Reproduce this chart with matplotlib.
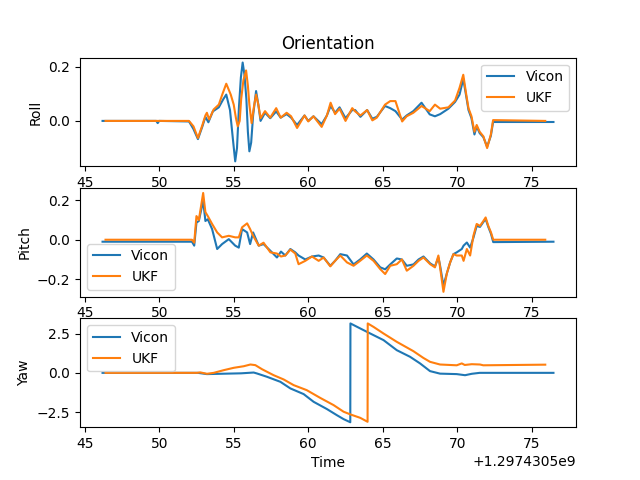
import numpy as np
import matplotlib
matplotlib.use('Agg')
import matplotlib.pyplot as plt

# time stamps are seconds after this base
T0 = 1.2974305e9

# ---- Roll ----
roll_t_vicon = [46.2, 49.8, 49.9, 50.0, 52.0, 52.3, 52.6, 52.9, 53.1, 53.3, 53.6, 54.0,
                54.3, 54.5, 54.75, 54.95, 55.1, 55.22, 55.35, 55.48, 55.6, 55.72, 55.85,
                55.95, 56.05, 56.17, 56.3, 56.5, 56.65, 56.8,
                57.1, 57.45, 57.85, 58.15, 58.55, 58.85, 59.25, 59.75, 60.0, 60.35,
                60.9, 61.25, 61.5, 61.8, 62.1, 62.5, 62.95, 63.15, 63.5, 63.95, 64.3,
                64.6, 65.15, 65.5, 65.85, 66.3, 66.6, 67.05, 67.6, 68.15, 68.5, 68.85,
                69.4, 69.85, 70.15, 70.4, 70.6, 70.75, 70.95, 71.15, 71.3, 71.5, 71.75,
                72.0, 72.25, 72.4, 76.45]
roll_vicon = [0.0, 0.0, -0.008, 0.0, -0.002, -0.03, -0.067, -0.02, 0.015, -0.005, 0.035, 0.05,
              0.08, 0.097, 0.04, -0.07, -0.149, -0.1, 0.05, 0.16, 0.215, 0.17, 0.08,
              -0.04, -0.112, -0.08, 0.02, 0.11, 0.06, 0.0,
              0.03, 0.01, 0.035, 0.012, 0.025, 0.012, -0.015, 0.02, 0.0, 0.017,
              -0.012, 0.02, 0.055, 0.03, 0.05, 0.01, 0.04, 0.04, 0.015, 0.04, 0.008,
              0.015, 0.055, 0.047, 0.036, 0.005, 0.02, 0.036, 0.067, 0.024, 0.017, 0.025,
              0.045, 0.07, 0.097, 0.155, 0.09, 0.04, 0.01, -0.05, -0.02, -0.045, -0.06,
              -0.095, -0.055, -0.004, -0.004]

roll_t_ukf = [46.4, 52.0, 52.3, 52.6, 52.9, 53.1, 53.2, 53.35, 53.65, 54.0, 54.25, 54.5,
              54.8, 55.0, 55.15, 55.27, 55.4, 55.5, 55.65, 55.83, 55.95, 56.05, 56.2,
              56.35, 56.5, 56.65, 56.8, 57.1, 57.45,
              57.85, 58.15, 58.55, 58.85, 59.25, 59.75, 60.0, 60.35, 60.9, 61.25, 61.5,
              61.8, 62.1, 62.5, 62.95, 63.15, 63.5, 63.95, 64.3, 64.6, 65.15, 65.5,
              65.85, 66.3, 66.6, 67.05, 67.6, 68.15, 68.5, 68.85, 69.4, 69.85, 70.15,
              70.4, 70.6, 70.75, 70.95, 71.15, 71.3, 71.5, 71.75, 72.0, 72.25, 72.4, 75.9]
roll_ukf = [0.0, 0.0, -0.02, -0.063, -0.015, 0.02, 0.03, 0.005, 0.042, 0.06, 0.1, 0.137,
            0.097, 0.06, 0.01, -0.02, 0.0, 0.08, 0.15, 0.186, 0.13, 0.06, -0.008,
            0.05, 0.097, 0.06, 0.01, 0.036, 0.012,
            0.047, 0.012, 0.03, 0.017, -0.026, 0.02, -0.002, 0.017, -0.022, 0.02, 0.067,
            0.025, 0.045, 0.0, 0.047, 0.035, 0.02, 0.04, 0.002, 0.012, 0.06, 0.073,
            0.073, -0.002, 0.017, 0.03, 0.055, 0.036, 0.06, 0.045, 0.05, 0.075, 0.122,
            0.17, 0.097, 0.047, 0.017, -0.04, -0.015, -0.04, -0.057, -0.1, -0.05, 0.003, 0.0]

# ---- Pitch ----
pitch_t = [52.2, 52.35, 52.5, 52.66, 52.95, 53.1, 53.26, 53.55, 53.89, 54.22, 54.67,
           55.1, 55.34, 55.56, 55.9, 56.1, 56.3, 56.68, 57.0, 57.46, 57.9, 58.17, 58.46,
           58.8, 59.13, 59.35, 59.8, 60.25, 60.7, 61.03, 61.48, 61.8, 62.15, 62.6, 63.04,
           63.48, 63.93, 64.38, 64.83, 65.16, 65.5, 65.94, 66.28, 66.61, 67.06, 67.4,
           67.73, 68.18, 68.5, 68.73, 68.83, 69.07, 69.3, 69.52, 69.74, 69.96, 70.3,
           70.42, 70.64, 70.86, 71.08, 71.3, 71.52, 71.75, 71.9, 72.08, 72.26, 72.41]
pitch_t_vicon = [46.2] + pitch_t + [76.45]
pitch_vicon = [-0.01,
               -0.01, -0.03, 0.087, 0.095, 0.198, 0.095, 0.104, 0.054, -0.047, -0.022, 0.003,
               -0.03, -0.04, 0.054, 0.037, -0.022, 0.037, -0.03, -0.022, -0.056, -0.09, -0.06, -0.08,
               -0.047, -0.064, -0.08, -0.1, -0.085, -0.08, -0.09, -0.132, -0.107, -0.073, -0.08, -0.125,
               -0.1, -0.07, -0.1, -0.14, -0.15, -0.125, -0.095, -0.1, -0.132, -0.125, -0.1,
               -0.085, -0.12, -0.135, -0.09, -0.125, -0.233, -0.17, -0.115, -0.073, -0.064, -0.047,
               -0.03, -0.014, -0.04, 0.01, 0.07, 0.065, 0.09, 0.105, 0.065, 0.03, -0.012,
               -0.01]
pitch_t_ukf = [46.4] + pitch_t + [75.9]
pitch_ukf = [0.0,
             0.0, -0.015, 0.12, 0.1, 0.237, 0.14, 0.12, 0.08, 0.037, 0.012, 0.02,
             0.012, 0.012, 0.063, 0.083, 0.054, 0.02, -0.03, -0.015, -0.064, -0.07, -0.085, -0.08,
             -0.05, -0.07, -0.124, -0.107, -0.085, -0.107, -0.09, -0.135, -0.107, -0.08, -0.115, -0.132,
             -0.107, -0.08, -0.107, -0.149, -0.174, -0.132, -0.124, -0.1, -0.157, -0.132, -0.107,
             -0.09, -0.124, -0.14, -0.08, -0.132, -0.264, -0.17, -0.115, -0.073, -0.08, -0.08,
             -0.107, -0.047, -0.08, 0.02, 0.08, 0.07, 0.095, 0.113, 0.07, 0.037, 0.0,
             0.0]

# ---- Yaw ----
yaw_t_vicon = [46.2, 52.6, 53.2, 54.1, 55.5, 56.34, 56.56, 57.23, 58.13, 58.8, 59.69,
               60.36, 61.25, 61.92, 62.37, 62.82, 62.83, 63.49, 64.16, 65.05, 65.94,
               66.83, 67.5, 68.17, 68.84, 69.96, 70.52, 70.97, 71.5, 76.45]
yaw_vicon = [0.0, 0.0, -0.08, -0.06, -0.03, 0.02, -0.04, -0.25, -0.57, -0.99, -1.35,
             -1.84, -2.3, -2.69, -2.94, -3.14, 3.14, 2.82, 2.5, 2.08, 1.44,
             1.02, 0.6, 0.11, -0.05, -0.08, -0.15, -0.06, 0.0, 0.0]

yaw_t_ukf = [46.4, 52.55, 52.75, 53.2, 53.66, 54.33, 55.0, 55.67, 56.12, 56.45, 56.9,
             57.68, 58.35, 59.02, 59.9, 60.8, 61.7, 62.37, 62.82, 63.49, 63.98, 63.99,
             64.38, 65.05, 65.94, 67.05, 67.72, 68.17, 68.84, 69.96, 70.3, 70.5, 70.97,
             71.52, 71.74, 75.9]
yaw_ukf = [0.0, 0.0, 0.03, -0.06, 0.0, 0.17, 0.32, 0.42, 0.53, 0.49, 0.23,
           -0.15, -0.42, -0.78, -1.1, -1.59, -2.05, -2.47, -2.64, -2.86, -3.11, 3.14,
           2.92, 2.5, 1.97, 1.38, 0.95, 0.7, 0.53, 0.48, 0.6, 0.5, 0.55,
           0.53, 0.48, 0.52]


def main():
    fig, axes = plt.subplots(3, 1, figsize=(6.4, 4.8), dpi=100)

    panels = [
        ('Roll', roll_t_vicon, roll_vicon, roll_t_ukf, roll_ukf, 'upper right'),
        ('Pitch', pitch_t_vicon, pitch_vicon, pitch_t_ukf, pitch_ukf, 'lower left'),
        ('Yaw', yaw_t_vicon, yaw_vicon, yaw_t_ukf, yaw_ukf, 'upper left'),
    ]
    for ax, (name, tv, v, tu, u, loc) in zip(axes, panels):
        ax.plot(T0 + np.array(tv), v, label='Vicon')
        ax.plot(T0 + np.array(tu), u, label='UKF')
        ax.set_ylabel(name)
        ax.legend(loc=loc)

    axes[0].set_title('Orientation')
    axes[2].set_xlabel('Time')

    fig.savefig('out.png', dpi=100)


if __name__ == '__main__':
    main()
